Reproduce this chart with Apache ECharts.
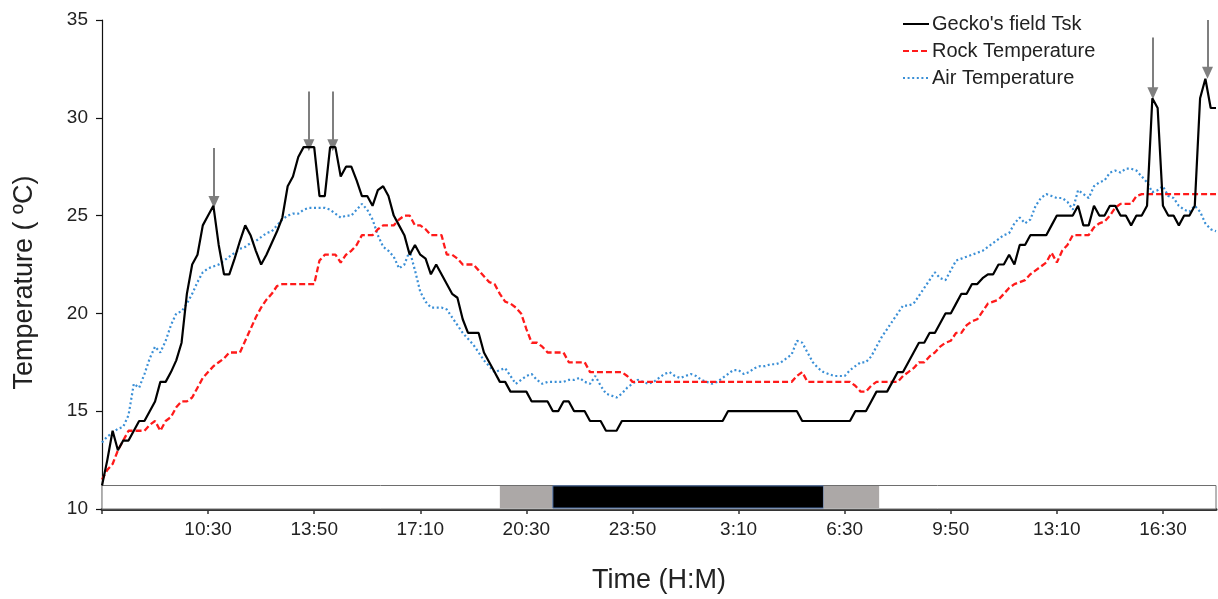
<!DOCTYPE html>
<html>
<head>
<meta charset="utf-8">
<script src="https://cdn.jsdelivr.net/npm/echarts@6/dist/echarts.min.js"></script>
<style>
html,body{margin:0;padding:0;background:#fff;}
#chart{width:1218px;height:599px;}
</style>
</head>
<body>
<div id="chart"></div>
<script>
// Sampling: one reading every 10 minutes, starting 7:10 (day 1)
const startClock = 7 * 60 + 10;
const stepMinutes = 10;

// Gecko's field skin temperature (°C)
const tskValues = [
  11.2, 12.5, 14, 13, 13.5, 13.5, 14, 14.5, 14.5, 15,
  15.5, 16.5, 16.5, 17, 17.6, 18.5, 21, 22.5, 23, 24.5,
  25, 25.5, 23.5, 22, 22, 22.8, 23.7, 24.5, 24, 23.2,
  22.5, 23, 23.6, 24.2, 24.9, 26.5, 27, 28, 28.5, 28.5,
  28.5, 26, 26, 28.5, 28.5, 27, 27.5, 27.5, 26.8, 26,
  26, 25.5, 26.3, 26.5, 26, 25, 24.5, 24, 23, 23.5,
  23, 22.8, 22, 22.5, 22, 21.5, 21, 20.8, 19.7, 19,
  19, 19, 18, 17.5, 17, 16.5, 16.5, 16, 16, 16,
  16, 15.5, 15.5, 15.5, 15.5, 15, 15, 15.5, 15.5, 15,
  15, 15, 14.5, 14.5, 14.5, 14, 14, 14, 14.5, 14.5,
  14.5, 14.5, 14.5, 14.5, 14.5, 14.5, 14.5, 14.5, 14.5, 14.5,
  14.5, 14.5, 14.5, 14.5, 14.5, 14.5, 14.5, 14.5, 15, 15,
  15, 15, 15, 15, 15, 15, 15, 15, 15, 15,
  15, 15, 14.5, 14.5, 14.5, 14.5, 14.5, 14.5, 14.5, 14.5,
  14.5, 14.5, 15, 15, 15, 15.5, 16, 16, 16, 16.5,
  17, 17, 17.5, 18, 18.5, 18.5, 19, 19, 19.5, 20,
  20, 20.5, 21, 21, 21.5, 21.5, 21.8, 22, 22, 22.5,
  22.5, 23, 22.5, 23.5, 23.5, 24, 24, 24, 24, 24.5,
  25, 25, 25, 25, 25.5, 24.5, 24.5, 25.5, 25, 25,
  25.5, 25.5, 25, 25, 24.5, 25, 25, 25.5, 31, 30.5,
  25.5, 25, 25, 24.5, 25, 25, 25.5, 31, 32, 30.5, 30.5
];

// Rock temperature (°C)
const rockValues = [
  11.5, 12, 12.3, 13, 13.5, 14, 14, 14, 14, 14.3,
  14.5, 14, 14.5, 14.7, 15.2, 15.5, 15.5, 15.7, 16.2, 16.7,
  17, 17.3, 17.5, 17.7, 18, 18, 18, 18.6, 19.2, 19.8,
  20.3, 20.7, 21, 21.4, 21.5, 21.5, 21.5, 21.5, 21.5, 21.5,
  21.5, 22.7, 23, 23, 23, 22.6, 23, 23.2, 23.5, 24,
  24, 24, 24.3, 24.5, 24.5, 24.5, 24.8, 25, 25, 24.5,
  24.5, 24.3, 24, 24, 24, 23, 23, 22.8, 22.5, 22.5,
  22.5, 22.2, 21.9, 21.6, 21.5, 21, 20.6, 20.5, 20.3, 20,
  19.2, 18.5, 18.5, 18.3, 18, 18, 18, 18, 17.5, 17.5,
  17.5, 17.5, 17, 17, 17, 17, 17, 17, 17, 16.8,
  16.5, 16.5, 16.5, 16.5, 16.5, 16.5, 16.5, 16.5, 16.5, 16.5,
  16.5, 16.5, 16.5, 16.5, 16.5, 16.5, 16.5, 16.5, 16.5, 16.5,
  16.5, 16.5, 16.5, 16.5, 16.5, 16.5, 16.5, 16.5, 16.5, 16.5,
  16.5, 16.8, 17, 16.5, 16.5, 16.5, 16.5, 16.5, 16.5, 16.5,
  16.5, 16.5, 16.3, 16, 16, 16.3, 16.5, 16.5, 16.5, 16.5,
  16.5, 16.8, 17, 17.2, 17.5, 17.5, 17.8, 18, 18.3, 18.5,
  18.6, 19, 19, 19.4, 19.6, 19.7, 20.1, 20.5, 20.6, 20.7,
  21, 21.3, 21.5, 21.6, 21.7, 22, 22.2, 22.4, 22.6, 23.1,
  22.6, 23.2, 23.5, 24, 24, 24, 24, 24.4, 24.6, 24.7,
  25, 25.4, 25.6, 25.6, 25.6, 26, 26.1, 26.1, 26.1, 26.1,
  26.1, 26.1, 26.1, 26.1, 26.1, 26.1, 26.1, 26.1, 26.1, 26.1, 26.1
];

// Air temperature (°C)
const airValues = [
  13.4, 13.7, 13.9, 14.1, 14.2, 14.8, 16.4, 16.2, 16.9, 17.7,
  18.3, 18, 18.6, 19.4, 20, 20.1, 20.5, 21, 21.6, 22.1,
  22.3, 22.4, 22.5, 22.7, 22.9, 23.1, 23.3, 23.4, 23.6, 23.7,
  23.9, 24.1, 24.2, 24.5, 24.8, 25, 25.1, 25.1, 25.3, 25.4,
  25.4, 25.4, 25.4, 25.3, 25.1, 24.9, 25, 25, 25.3, 25.6,
  25.3, 24.8, 24, 23.4, 23.2, 22.9, 22.3, 22.5, 23.2, 22.2,
  21.1, 20.6, 20.3, 20.3, 20.3, 20.2, 19.8, 19.4, 19, 18.7,
  18.4, 18, 17.6, 17.3, 17, 17.1, 17.2, 16.8, 16.4, 16.6,
  16.8, 16.9, 16.6, 16.4, 16.5, 16.5, 16.5, 16.5, 16.6, 16.6,
  16.7, 16.5, 16.4, 16.8, 16.3, 15.9, 15.8, 15.7, 15.9, 16.2,
  16.4, 16.6, 16.5, 16.4, 16.5, 16.7, 16.9, 17, 16.8, 16.7,
  16.8, 16.9, 16.8, 16.6, 16.5, 16.4, 16.5, 16.7, 16.9, 17.1,
  17.1, 16.9, 17, 17.2, 17.3, 17.3, 17.4, 17.4, 17.5, 17.7,
  17.9, 18.6, 18.5, 18, 17.5, 17.2, 17, 16.9, 16.8, 16.8,
  16.8, 17.1, 17.3, 17.5, 17.5, 17.8, 18.3, 18.8, 19.2, 19.6,
  20, 20.4, 20.4, 20.5, 20.9, 21.3, 21.7, 22.1, 21.8, 21.7,
  22.2, 22.7, 22.8, 22.9, 23, 23.1, 23.2, 23.4, 23.6, 23.8,
  24, 24.1, 24.6, 24.9, 24.6, 24.8, 25.5, 25.9, 26.1, 26,
  25.9, 25.9, 25.7, 25.3, 26.3, 26.1, 25.9, 26.5, 26.7, 26.8,
  27.2, 27.3, 27.2, 27.4, 27.4, 27.3, 27, 26.7, 26.2, 26.3,
  26.5, 26, 25.9, 25.5, 25.3, 25.2, 25.5, 25.2, 24.6, 24.3, 24.2
];

// X tick positions (minutes after 7:10) and labels shown
const tickMinutes = [0, 200, 400, 600, 800, 1000, 1200, 1400, 1600, 1800, 2000];
const labelMinutes = [200, 400, 600, 800, 1000, 1200, 1400, 1600, 1800, 2000];
const axisEndMinutes = 2100;

// Light/dark bar (minutes after 7:10): white, dusk grey, night black, dawn grey, white
const phaseBounds = [0, 750, 850, 1360, 1465, 2100];
const phaseKinds = ['day', 'twilight', 'night', 'twilight', 'day'];
const barBottom = 10;
const barTop = 11.2;

// Arrows marking peak skin temperatures (minutes, top value, tip value)
const arrowMinutes = [211, 390, 435, 1981, 2084];
const arrowTop = [28.45, 31.35, 31.35, 34.1, 35];
const arrowTip = [25.7, 28.6, 28.6, 31.25, 32.3];

function clock(m) {
  const t = (startClock + m) % 1440;
  const h = Math.floor(t / 60);
  const mm = t % 60;
  return h + ':' + (mm < 10 ? '0' : '') + mm;
}
function pairs(vals) {
  return vals.map((v, i) => [i * stepMinutes, v]);
}

const phaseStyle = {
  day: { color: 'rgba(0,0,0,0)', borderWidth: 0 },
  twilight: { color: '#aca8a7', borderWidth: 0 },
  night: { color: '#000000', borderColor: '#4a6ea8', borderWidth: 1 }
};
const areaData = [[
  { xAxis: phaseBounds[0], yAxis: barBottom, itemStyle: { color: '#ffffff', borderColor: '#6e6e6e', borderWidth: 1 } },
  { xAxis: phaseBounds[phaseBounds.length - 1], yAxis: barTop }
]];
phaseKinds.forEach((k, i) => {
  if (k === 'day') return;
  areaData.push([
    { xAxis: phaseBounds[i], yAxis: barBottom + 0.05, itemStyle: phaseStyle[k] },
    { xAxis: phaseBounds[i + 1], yAxis: barTop - 0.02 }
  ]);
});

const arrowData = arrowMinutes.map((m, i) => [
  { coord: [m, arrowTop[i]] },
  { coord: [m, arrowTip[i]] }
]);

const FONT = '"Liberation Sans", Arial, sans-serif';
const TXT = '#222222';

const chart = echarts.init(document.getElementById('chart'), null, { renderer: 'canvas' });
chart.setOption({
  animation: false,
  backgroundColor: '#ffffff',
  grid: { left: 102, right: 2, top: 20, bottom: 90, containLabel: false },
  legend: {
    orient: 'vertical',
    left: 897,
    top: 9,
    itemWidth: 26,
    itemHeight: 14,
    itemGap: 7,
    data: ["Gecko's field Tsk", 'Rock Temperature', 'Air Temperature'],
    itemStyle: { opacity: 0 },
    textStyle: { fontFamily: FONT, fontSize: 20, color: TXT, padding: [0, 0, 0, -2] }
  },
  xAxis: {
    type: 'value',
    min: 0,
    max: axisEndMinutes,
    name: 'Time (H:M)',
    nameLocation: 'middle',
    nameGap: 58,
    nameTextStyle: { fontFamily: FONT, fontSize: 27, color: TXT },
    splitLine: { show: false },
    axisLine: { show: true, onZero: false, lineStyle: { color: '#333333', width: 3 } },
    axisTick: { show: true, length: 5, customValues: tickMinutes, lineStyle: { color: '#333333', width: 1.5 } },
    axisLabel: {
      customValues: labelMinutes,
      formatter: (v) => clock(v),
      fontFamily: FONT, fontSize: 19, color: TXT, margin: 11
    }
  },
  yAxis: {
    type: 'value',
    min: 10,
    max: 35,
    interval: 5,
    name: 'Temperature ( \u00BAC)',
    nameLocation: 'middle',
    nameGap: 64,
    nameRotate: 90,
    nameTextStyle: { fontFamily: FONT, fontSize: 27, color: TXT, padding: [0, 36, 0, 0] },
    splitLine: { show: false },
    axisLine: { show: true, lineStyle: { color: '#111111', width: 1.2 } },
    axisTick: { show: true, length: 6, lineStyle: { color: '#111111', width: 1.2 } },
    axisLabel: { fontFamily: FONT, fontSize: 19, color: TXT, margin: 14 }
  },
  series: [
    {
      name: 'daylight',
      type: 'line',
      data: [],
      silent: true,
      z: 1,
      markArea: { silent: true, data: areaData }
    },
    {
      name: 'Air Temperature',
      type: 'line',
      data: pairs(airValues),
      symbol: 'none',
      z: 3,
      lineStyle: { color: '#3a8fd6', width: 2.2, type: [2, 2.6] },
      itemStyle: { color: '#3a8fd6' }
    },
    {
      name: 'Rock Temperature',
      type: 'line',
      data: pairs(rockValues),
      symbol: 'none',
      z: 4,
      lineStyle: { color: '#ff1a1a', width: 2.3, type: [6, 3] },
      itemStyle: { color: '#ff1a1a' }
    },
    {
      name: "Gecko's field Tsk",
      type: 'line',
      data: pairs(tskValues),
      symbol: 'none',
      z: 5,
      lineStyle: { color: '#000000', width: 2.2 },
      itemStyle: { color: '#000000' }
    },
    {
      name: 'arrows',
      type: 'line',
      data: [],
      silent: true,
      z: 6,
      markLine: {
        silent: true,
        symbol: ['none', 'triangle'],
        symbolSize: [11, 12],
        label: { show: false },
        lineStyle: { color: '#7f7f7f', width: 2, type: 'solid' },
        itemStyle: { color: '#7f7f7f' },
        data: arrowData
      }
    }
  ]
});
</script>
</body>
</html>
